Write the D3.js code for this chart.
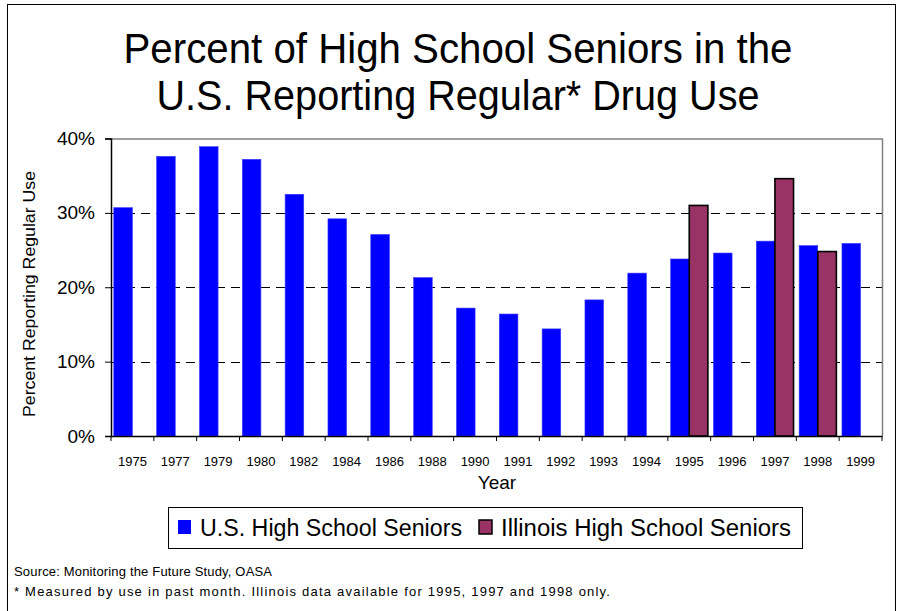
<!DOCTYPE html>
<html>
<head>
<meta charset="utf-8">
<script src="https://cdn.jsdelivr.net/npm/d3@7/dist/d3.min.js"></script>
<style>
  html, body { margin: 0; padding: 0; background: #fff; }
  svg { display: block; font-family: Arial, "Liberation Sans", sans-serif; }
</style>
</head>
<body>
<svg id="chart" width="899" height="611"></svg>
<script>
// Survey years on the category axis
const years = ["1975", "1977", "1979", "1980", "1982", "1984", "1986", "1988", "1990",
               "1991", "1992", "1993", "1994", "1995", "1996", "1997", "1998", "1999"];
// Past-month use among U.S. seniors (%)
const usValues = [30.7, 37.6, 38.9, 37.2, 32.5, 29.2, 27.1, 21.3, 17.2,
                  16.4, 14.4, 18.3, 21.9, 23.8, 24.6, 26.2, 25.6, 25.9];
// Illinois seniors (%), surveyed only in 1995, 1997 and 1998
const ilValues = [null, null, null, null, null, null, null, null, null,
                  null, null, null, null, 31.0, null, 34.6, 24.8, null];
const seriesKeys = ["us", "il"];
const seriesNames = ["U.S. High School Seniors", "Illinois High School Seniors"];
const yTicks = [0, 10, 20, 30, 40];

const svg = d3.select("#chart");
const FONT = 'Arial, "Liberation Sans", sans-serif';

// outer frame
svg.append("rect")
  .attr("x", 7.5).attr("y", 4.5).attr("width", 888).attr("height", 640)
  .attr("fill", "none").attr("stroke", "#000").attr("stroke-width", 1);

// title, two centred lines
const titleLines = [
  { text: "Percent of High School Seniors in the", y: 63, len: 669 },
  { text: "U.S. Reporting Regular* Drug Use", y: 110, len: 603 }
];
svg.append("g").selectAll("text").data(titleLines).join("text")
  .attr("x", 458).attr("y", d => d.y).attr("text-anchor", "middle")
  .style("font-size", "42px")
  .attr("textLength", d => d.len).attr("lengthAdjust", "spacingAndGlyphs")
  .text(d => d.text);

// plot area
const plot = { left: 111, right: 882, top: 138.5, bottom: 436 };

const x = d3.scaleBand().domain(years).range([plot.left, plot.right]).paddingInner(0).paddingOuter(0);
const x1 = d3.scaleBand().domain(seriesKeys).range([0, x.bandwidth()]).paddingInner(0).paddingOuter(0.15);
const y = d3.scaleLinear().domain([0, 40]).range([plot.bottom, plot.top]);

const g = svg.append("g");

// plot border (top and right)
g.append("path")
  .attr("d", `M${plot.left},${plot.top + 0.5}H${plot.right + 0.5}V${plot.bottom}`)
  .attr("fill", "none").attr("stroke", "#808080").attr("stroke-width", 1.5);

// dashed gridlines
const grid = g.append("g")
  .attr("transform", `translate(${plot.left},0)`)
  .call(d3.axisLeft(y).tickValues(yTicks.filter(t => t > 0 && t < 40))
    .tickSize(-(plot.right - plot.left)).tickFormat(""));
grid.select(".domain").remove();
grid.selectAll(".tick line")
  .attr("stroke", "#000").attr("stroke-width", 1).attr("stroke-dasharray", "9,6")
  .attr("shape-rendering", "crispEdges");

// bars
const rows = years.map((yr, i) => ({ year: yr, us: usValues[i], il: ilValues[i] }));
const barColors = { us: "#0000ff", il: "#993366" };

const groups = g.selectAll(".yr").data(rows).join("g")
  .attr("transform", d => `translate(${x(d.year)},0)`);
groups.selectAll("rect")
  .data(d => seriesKeys.filter(k => d[k] != null).map(k => ({ key: k, value: d[k] })))
  .join("rect")
  .attr("x", d => x1(d.key))
  .attr("width", x1.bandwidth())
  .attr("y", d => y(d.value))
  .attr("height", d => y(0) - y(d.value))
  .attr("fill", d => barColors[d.key])
  .attr("stroke", d => d.key === "il" ? "#000" : "#3c3cff")
  .attr("stroke-width", d => d.key === "il" ? 1.6 : 0.6);

// y axis
const yAxis = g.append("g")
  .attr("transform", `translate(${plot.left},0)`)
  .call(d3.axisLeft(y).tickValues(yTicks).tickFormat(d => d + "%").tickSize(6).tickPadding(10));
yAxis.select(".domain").attr("stroke", "#000").attr("stroke-width", 1.5);
yAxis.selectAll(".tick line").attr("stroke", "#000").attr("stroke-width", 1);
yAxis.selectAll(".tick text").attr("fill", "#000")
  .style("font-family", FONT).style("font-size", "19px");

// x axis: labels centred in each band, ticks at band edges
const xAxis = g.append("g")
  .attr("transform", `translate(0,${plot.bottom})`)
  .call(d3.axisBottom(x).tickSize(0).tickPadding(21));
xAxis.select(".domain").attr("stroke", "#000").attr("stroke-width", 1.5);
xAxis.selectAll(".tick text").attr("fill", "#000")
  .style("font-family", FONT).style("font-size", "13px");
const edges = years.map(d => x(d)).concat([x.range()[1]]);
xAxis.selectAll(".edge").data(edges).join("line")
  .attr("x1", d => d).attr("x2", d => d)
  .attr("y1", 0).attr("y2", 5)
  .attr("stroke", "#000").attr("stroke-width", 1);

// axis titles
svg.append("text")
  .attr("x", 497).attr("y", 489).attr("text-anchor", "middle")
  .style("font-size", "19px").text("Year");
svg.append("text")
  .attr("transform", "translate(35,294) rotate(-90)")
  .attr("text-anchor", "middle")
  .style("font-size", "16px")
  .attr("textLength", 246).attr("lengthAdjust", "spacingAndGlyphs")
  .text("Percent Reporting Regular Use");

// legend
const legend = svg.append("g");
legend.append("rect")
  .attr("x", 168.5).attr("y", 507.5).attr("width", 634).attr("height", 41)
  .attr("fill", "#fff").attr("stroke", "#000").attr("stroke-width", 1);
const legendItems = [
  { key: "us", sx: 178, tx: 200, len: 262 },
  { key: "il", sx: 479, tx: 501, len: 290 }
];
legendItems.forEach((it, i) => {
  legend.append("rect")
    .attr("x", it.sx).attr("y", 520).attr("width", 13).attr("height", 14)
    .attr("fill", barColors[it.key])
    .attr("stroke", it.key === "il" ? "#000" : "none").attr("stroke-width", 1.5);
  legend.append("text")
    .attr("x", it.tx).attr("y", 535.5)
    .style("font-size", "23px")
    .attr("textLength", it.len).attr("lengthAdjust", "spacingAndGlyphs")
    .text(seriesNames[i]);
});

// footnotes
svg.append("text").attr("x", 14).attr("y", 576)
  .style("font-size", "13px")
  .attr("textLength", 258).attr("lengthAdjust", "spacing")
  .text("Source: Monitoring the Future Study, OASA");
svg.append("text").attr("x", 14).attr("y", 596)
  .style("font-size", "13px")
  .attr("textLength", 596).attr("lengthAdjust", "spacing")
  .text("* Measured by use in past month.  Illinois data available for 1995, 1997 and 1998 only.");
</script>
</body>
</html>
